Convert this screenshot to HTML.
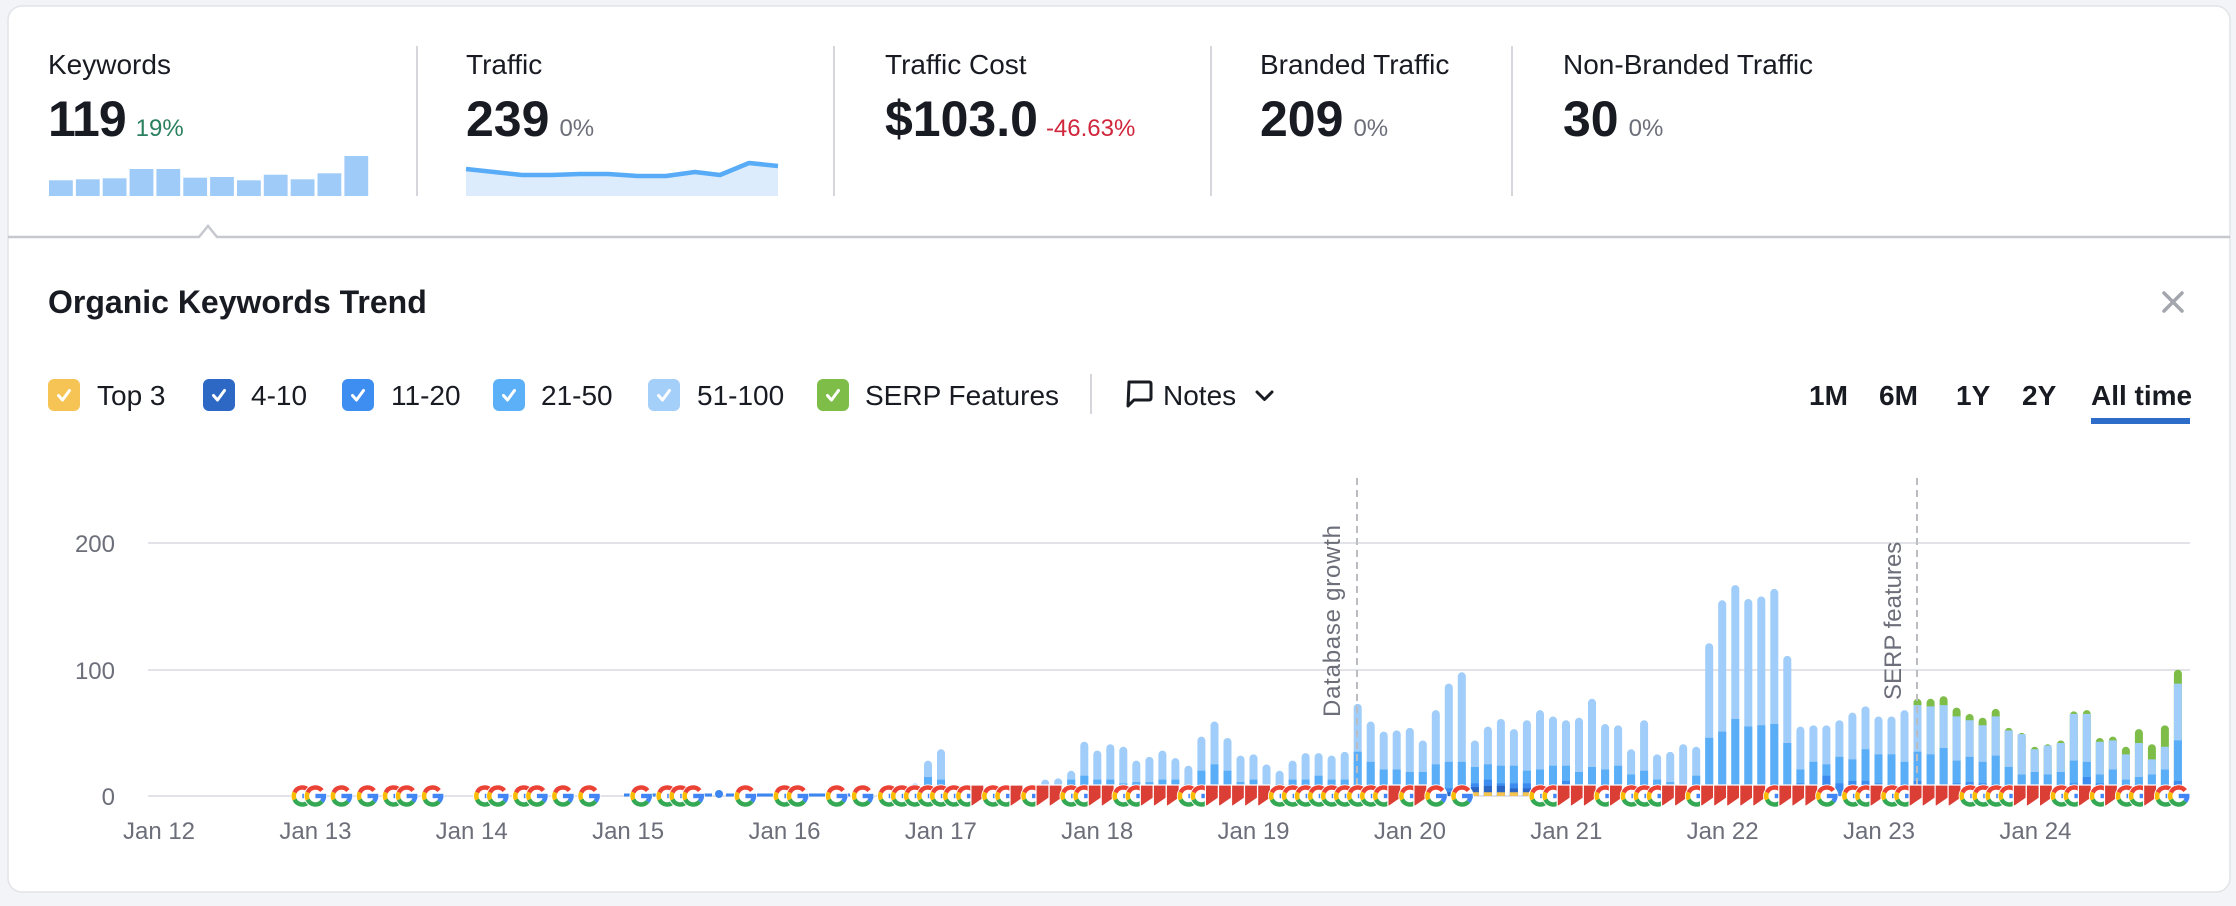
<!DOCTYPE html>
<html><head><meta charset="utf-8"><style>
html,body{margin:0;padding:0;background:#f3f4f8;width:2236px;height:906px;overflow:hidden}
svg{display:block}
.t{font-family:"Liberation Sans",Arial,sans-serif}
</style></head><body>
<svg class="t" width="2236" height="906" viewBox="0 0 2236 906" xmlns="http://www.w3.org/2000/svg">
<defs>
<g id="gi">
<circle r="11.6" fill="#fff"/>
<g fill="none" stroke-width="4.5">
<path d="M6.51 -5.46A8.5 8.5 0 0 0 -7.7 -3.59" stroke="#ea4335"/>
<path d="M-7.7 -3.59A8.5 8.5 0 0 0 -7.7 3.59" stroke="#fbbc05"/>
<path d="M-7.7 3.59A8.5 8.5 0 0 0 6.51 5.46" stroke="#34a853"/>
<path d="M6.51 5.46A8.5 8.5 0 0 0 8.5 0" stroke="#4285f4"/>
</g>
<rect x="0" y="-2.2" width="10.75" height="4.4" fill="#4285f4"/>
</g>
<path id="fl" d="M0 0H13V13L1.5 21H0Z" fill="#db3e35" stroke="#fff" stroke-width="1.2"/>
</defs>

<rect x="0" y="0" width="2236" height="906" fill="#f3f4f8"/>
<rect x="8" y="6" width="2222" height="886" rx="14" fill="#fff" stroke="#e2e3e8" stroke-width="1.5"/>

<!-- header metrics -->
<g font-size="28" fill="#191b23">
<text x="48" y="74">Keywords</text>
<text x="466" y="74">Traffic</text>
<text x="885" y="74">Traffic Cost</text>
<text x="1260" y="74">Branded Traffic</text>
<text x="1563" y="74">Non-Branded Traffic</text>
</g>
<text x="48" y="136"><tspan font-size="50" font-weight="bold" fill="#191b23" letter-spacing="-1">119</tspan><tspan dx="10" font-size="24" fill="#2b8060">19%</tspan></text>
<text x="466" y="136"><tspan font-size="50" font-weight="bold" fill="#191b23">239</tspan><tspan dx="10" font-size="24" fill="#6c6e79">0%</tspan></text>
<text x="885" y="136"><tspan font-size="50" font-weight="bold" fill="#191b23">$103.0</tspan><tspan dx="8" font-size="24" fill="#d0263c">-46.63%</tspan></text>
<text x="1260" y="136"><tspan font-size="50" font-weight="bold" fill="#191b23">209</tspan><tspan dx="10" font-size="24" fill="#6c6e79">0%</tspan></text>
<text x="1563" y="136"><tspan font-size="50" font-weight="bold" fill="#191b23">30</tspan><tspan dx="10" font-size="24" fill="#6c6e79">0%</tspan></text>

<g stroke="#d6d7dc" stroke-width="2">
<line x1="417" y1="46" x2="417" y2="196"/>
<line x1="834" y1="46" x2="834" y2="196"/>
<line x1="1211" y1="46" x2="1211" y2="196"/>
<line x1="1512" y1="46" x2="1512" y2="196"/>
</g>

<!-- keywords sparkline -->
<g fill="#9fcbf8">
<rect x="49" y="180.3" width="23.8" height="15.7"/>
<rect x="75.9" y="179.3" width="23.8" height="16.7"/>
<rect x="102.7" y="178.3" width="23.8" height="17.7"/>
<rect x="129.6" y="169" width="23.8" height="27"/>
<rect x="156.4" y="169" width="23.8" height="27"/>
<rect x="183.3" y="177.7" width="23.8" height="18.3"/>
<rect x="210.1" y="177" width="23.8" height="19"/>
<rect x="237" y="180.3" width="23.8" height="15.7"/>
<rect x="263.8" y="174.7" width="23.8" height="21.3"/>
<rect x="290.7" y="179.3" width="23.8" height="16.7"/>
<rect x="317.5" y="173.3" width="23.8" height="22.7"/>
<rect x="344.4" y="156" width="23.8" height="40"/>
</g>

<!-- traffic sparkline -->
<polygon points="466,169 494,172 522,175 551,175 580,174 608,174 637,176 666,176 695,172 720,175 749,163 778,166 778,196 466,196" fill="#dcecfd"/>
<polyline points="466,169 494,172 522,175 551,175 580,174 608,174 637,176 666,176 695,172 720,175 749,163 778,166" fill="none" stroke="#58abf6" stroke-width="4.5" stroke-linejoin="round"/>

<!-- header bottom line with notch -->
<polyline points="8,237 199,237 208,226 217,237 2230,237" fill="none" stroke="#c6c8ce" stroke-width="2.5"/>

<!-- title -->
<text x="48" y="313" font-size="32" font-weight="bold" fill="#191b23">Organic Keywords Trend</text>
<g stroke="#a4a6ae" stroke-width="3.5" stroke-linecap="round">
<line x1="2164" y1="293" x2="2182" y2="311"/>
<line x1="2182" y1="293" x2="2164" y2="311"/>
</g>

<!-- legend -->
<rect x="48" y="379" width="32" height="32" rx="6" fill="#f6c454"/>
<rect x="203" y="379" width="32" height="32" rx="6" fill="#2c68c4"/>
<rect x="342" y="379" width="32" height="32" rx="6" fill="#3d8ef0"/>
<rect x="493" y="379" width="32" height="32" rx="6" fill="#5cb0f7"/>
<rect x="648" y="379" width="32" height="32" rx="6" fill="#a3cff9"/>
<rect x="817" y="379" width="32" height="32" rx="6" fill="#7dbd48"/>
<g fill="none" stroke="#fff" stroke-width="3" stroke-linecap="round" stroke-linejoin="round">
<polyline points="58.5,395.5 62.5,400 69.5,390.5"/>
<polyline points="213.5,395.5 217.5,400 224.5,390.5"/>
<polyline points="352.5,395.5 356.5,400 363.5,390.5"/>
<polyline points="503.5,395.5 507.5,400 514.5,390.5"/>
<polyline points="658.5,395.5 662.5,400 669.5,390.5"/>
<polyline points="827.5,395.5 831.5,400 838.5,390.5"/>
</g>
<g font-size="28" fill="#191b23">
<text x="97" y="405">Top 3</text>
<text x="251" y="405">4-10</text>
<text x="391" y="405">11-20</text>
<text x="541" y="405">21-50</text>
<text x="697" y="405">51-100</text>
<text x="865" y="405">SERP Features</text>
<text x="1163" y="405">Notes</text>
</g>
<line x1="1091" y1="374" x2="1091" y2="414" stroke="#d5d6db" stroke-width="2"/>
<path d="M1129 382H1149Q1151 382 1151 384V398Q1151 400 1149 400H1134L1128 406Z" fill="none" stroke="#191b23" stroke-width="3" stroke-linejoin="round"/>
<polyline points="1257,392 1264.5,399.5 1272,392" fill="none" stroke="#191b23" stroke-width="3" stroke-linecap="round" stroke-linejoin="round"/>

<g font-size="28" font-weight="bold" fill="#191b23">
<text x="1809" y="405">1M</text>
<text x="1879" y="405">6M</text>
<text x="1956" y="405">1Y</text>
<text x="2022" y="405">2Y</text>
<text x="2091" y="405">All time</text>
</g>
<rect x="2091" y="418" width="99" height="6" fill="#2d6cc9"/>

<!-- grid -->
<g stroke="#e2e3e8" stroke-width="2">
<line x1="148" y1="543" x2="2190" y2="543"/>
<line x1="148" y1="670" x2="2190" y2="670"/>
<line x1="148" y1="796" x2="2190" y2="796"/>
</g>
<g font-size="24" fill="#6c6e79">
<text x="115" y="552" text-anchor="end">200</text>
<text x="115" y="679" text-anchor="end">100</text>
<text x="115" y="805" text-anchor="end">0</text>
</g>
<g font-size="24" fill="#6c6e79" text-anchor="middle">
<text x="159" y="839">Jan 12</text>
<text x="315.4" y="839">Jan 13</text>
<text x="471.7" y="839">Jan 14</text>
<text x="628.1" y="839">Jan 15</text>
<text x="784.5" y="839">Jan 16</text>
<text x="940.8" y="839">Jan 17</text>
<text x="1097.2" y="839">Jan 18</text>
<text x="1253.5" y="839">Jan 19</text>
<text x="1409.9" y="839">Jan 20</text>
<text x="1566.3" y="839">Jan 21</text>
<text x="1722.6" y="839">Jan 22</text>
<text x="1879" y="839">Jan 23</text>
<text x="2035.4" y="839">Jan 24</text>
</g>

<!-- bars -->
<g transform="translate(0 796) scale(1 -1.263)" fill="none" stroke-width="8">
<path vector-effect="non-scaling-stroke" stroke="#7dbd48" stroke-linecap="round" d="M1917.5 3.2V73.8M1930.6 3.2V73.8M1943.6 3.2V75.8M1956.6 3.2V66.8M1969.6 3.2V61.8M1982.6 3.2V58.8M1995.7 3.2V65.8M2008.7 3.2V50.8M2021.7 3.2V46.8M2034.7 3.2V35.8M2047.7 3.2V37.8M2060.8 3.2V40.8M2073.8 3.2V63.8M2086.8 3.2V64.8M2099.8 3.2V42.8M2112.8 3.2V43.8M2125.9 3.2V35.8M2138.9 3.2V49.8M2151.9 3.2V37.8M2164.9 3.2V52.8M2177.9 3.2V96.8"/>
<path vector-effect="non-scaling-stroke" stroke="#a0cdf9" stroke-linecap="butt" d="M1917.5 0V72M1930.6 0V71M1943.6 0V72M1956.6 0V63M1969.6 0V60M1982.6 0V56M1995.7 0V63M2008.7 0V52M2021.7 0V49M2034.7 0V37M2047.7 0V40M2060.8 0V42M2073.8 0V65M2086.8 0V65M2099.8 0V43M2112.8 0V44M2125.9 0V33M2138.9 0V42M2151.9 0V29M2164.9 0V39M2177.9 0V89M1006.1 0V3"/>
<path vector-effect="non-scaling-stroke" stroke="#a0cdf9" stroke-linecap="round" d="M915 3.2V6.8M928 3.2V24.8M941 3.2V33.8M1045.2 3.2V9.8M1058.2 3.2V10.8M1071.2 3.2V16.8M1084.3 3.2V39.8M1097.3 3.2V32.8M1110.3 3.2V37.8M1123.3 3.2V35.8M1136.3 3.2V24.8M1149.4 3.2V27.8M1162.4 3.2V32.8M1175.4 3.2V26.8M1188.4 3.2V20.8M1201.4 3.2V43.8M1214.5 3.2V55.8M1227.5 3.2V42.8M1240.5 3.2V28.8M1253.5 3.2V29.8M1266.5 3.2V21.8M1279.6 3.2V16.8M1292.6 3.2V24.8M1305.6 3.2V30.8M1318.6 3.2V30.8M1331.6 3.2V28.8M1344.7 3.2V31.8M1357.7 3.2V69.8M1370.7 3.2V55.8M1383.7 3.2V47.8M1396.7 3.2V48.8M1409.8 3.2V50.8M1422.8 3.2V40.8M1435.8 3.2V64.8M1448.8 3.2V85.8M1461.8 3.2V94.8M1474.9 3.2V40.8M1487.9 3.2V51.8M1500.9 3.2V57.8M1513.9 3.2V49.8M1526.9 3.2V56.8M1540 3.2V64.8M1553 3.2V59.8M1566 3.2V56.8M1579 3.2V58.8M1592 3.2V73.8M1605.1 3.2V53.8M1618.1 3.2V52.8M1631.1 3.2V33.8M1644.1 3.2V56.8M1657.1 3.2V29.8M1670.2 3.2V31.8M1683.2 3.2V37.8M1696.2 3.2V35.8M1709.2 3.2V117.8M1722.2 3.2V151.8M1735.3 3.2V163.8M1748.3 3.2V152.8M1761.3 3.2V154.8M1774.3 3.2V160.8M1787.3 3.2V107.8M1800.4 3.2V51.8M1813.4 3.2V52.8M1826.4 3.2V52.8M1839.4 3.2V56.8M1852.4 3.2V62.8M1865.5 3.2V67.8M1878.5 3.2V59.8M1891.5 3.2V59.8M1904.5 3.2V64.8"/>
<path vector-effect="non-scaling-stroke" stroke="#5aaef7" stroke-linecap="butt" d="M928 0V15M941 0V13M1071.2 0V13M1084.3 0V16M1097.3 0V13M1110.3 0V13M1123.3 0V10M1136.3 0V11M1149.4 0V11M1162.4 0V13M1175.4 0V13M1188.4 0V9M1201.4 0V20M1214.5 0V25M1227.5 0V20M1240.5 0V11M1253.5 0V13M1266.5 0V8M1279.6 0V9M1292.6 0V13M1305.6 0V13M1318.6 0V16M1331.6 0V13M1344.7 0V13M1357.7 0V35M1370.7 0V27M1383.7 0V21M1396.7 0V21M1409.8 0V19M1422.8 0V19M1435.8 0V25M1448.8 0V27M1461.8 0V27M1474.9 0V23M1487.9 0V25M1500.9 0V24M1513.9 0V24M1526.9 0V20M1540 0V21M1553 0V24M1566 0V24M1579 0V19M1592 0V23M1605.1 0V21M1618.1 0V24M1631.1 0V17M1644.1 0V20M1657.1 0V13M1670.2 0V11M1683.2 0V9M1696.2 0V16M1709.2 0V46M1722.2 0V51M1735.3 0V61M1748.3 0V55M1761.3 0V56M1774.3 0V57M1787.3 0V42M1800.4 0V21M1813.4 0V27M1826.4 0V25M1839.4 0V31M1852.4 0V29M1865.5 0V37M1878.5 0V33M1891.5 0V33M1904.5 0V27M1917.5 0V35M1930.6 0V33M1943.6 0V38M1956.6 0V28M1969.6 0V31M1982.6 0V27M1995.7 0V32M2008.7 0V23M2021.7 0V17M2034.7 0V19M2047.7 0V17M2060.8 0V19M2073.8 0V28M2086.8 0V27M2099.8 0V17M2112.8 0V21M2125.9 0V13M2138.9 0V15M2151.9 0V17M2164.9 0V21M2177.9 0V44"/>
<path vector-effect="non-scaling-stroke" stroke="#3c8cf0" stroke-linecap="butt" d="M1448.8 0V6M1461.8 0V5M1474.9 0V10M1487.9 0V13M1500.9 0V10M1513.9 0V10M1526.9 0V10M1566 0V12M1787.3 0V9M1800.4 0V10M1813.4 0V9M1826.4 0V16M1839.4 0V10M1852.4 0V12M1865.5 0V12M1878.5 0V10M1891.5 0V8M1904.5 0V9M1917.5 0V12M1930.6 0V9M1943.6 0V9M1956.6 0V10M1969.6 0V11M1982.6 0V10M1995.7 0V9M2008.7 0V8M2073.8 0V10M2086.8 0V15M2099.8 0V10M2112.8 0V8M2164.9 0V8M2177.9 0V12"/>
<path vector-effect="non-scaling-stroke" stroke="#2c65c2" stroke-linecap="butt" d="M1448.8 0V3M1474.9 0V7M1487.9 0V8M1500.9 0V8M1513.9 0V6M1526.9 0V6"/>
<path vector-effect="non-scaling-stroke" stroke="#f6c350" stroke-linecap="butt" d="M1474.9 0V3M1487.9 0V3M1500.9 0V3M1513.9 0V3M1526.9 0V3"/>
</g>

<!-- annotations -->
<g stroke="#bcbdc3" stroke-width="2" stroke-dasharray="7 5">
<line x1="1357" y1="478" x2="1357" y2="796"/>
<line x1="1917" y1="478" x2="1917" y2="796"/>
</g>
<text transform="translate(1340 717) rotate(-90)" font-size="24" fill="#6c6e79" textLength="192" lengthAdjust="spacing">Database growth</text>
<text transform="translate(1901 700) rotate(-90)" font-size="24" fill="#6c6e79">SERP features</text>

<!-- zero dashed line -->
<g stroke="#3b86f0" stroke-width="3">
<line x1="624" y1="795" x2="640" y2="795"/>
<line x1="651" y1="795" x2="656" y2="795"/>
<line x1="704" y1="795" x2="712" y2="795"/>
<line x1="726" y1="795" x2="735" y2="795"/>
<line x1="757" y1="795" x2="775" y2="795"/>
<line x1="803" y1="795" x2="828" y2="795"/>
<line x1="845" y1="795" x2="850" y2="795"/>
</g>
<circle cx="719" cy="794" r="4" fill="#3b86f0"/>

<!-- icons -->
<g>
<use href="#gi" x="302.3" y="796"/>
<use href="#gi" x="315.4" y="796"/>
<use href="#gi" x="341.4" y="796"/>
<use href="#gi" x="367.5" y="796"/>
<use href="#gi" x="393.5" y="796"/>
<use href="#gi" x="406.6" y="796"/>
<use href="#gi" x="432.6" y="796"/>
<use href="#gi" x="484.8" y="796"/>
<use href="#gi" x="497.8" y="796"/>
<use href="#gi" x="523.8" y="796"/>
<use href="#gi" x="536.9" y="796"/>
<use href="#gi" x="562.9" y="796"/>
<use href="#gi" x="589" y="796"/>
<use href="#gi" x="641.1" y="796"/>
<use href="#gi" x="667.2" y="796"/>
<use href="#gi" x="680.2" y="796"/>
<use href="#gi" x="693.2" y="796"/>
<use href="#gi" x="745.4" y="796"/>
<use href="#gi" x="784.4" y="796"/>
<use href="#gi" x="797.5" y="796"/>
<use href="#gi" x="836.6" y="796"/>
<use href="#gi" x="862.6" y="796"/>
<use href="#gi" x="888.7" y="796"/>
<use href="#gi" x="901.7" y="796"/>
<use href="#gi" x="914.7" y="796"/>
<use href="#gi" x="927.8" y="796"/>
<use href="#gi" x="940.8" y="796"/>
<use href="#gi" x="953.8" y="796"/>
<use href="#gi" x="966.9" y="796"/>
<use href="#fl" x="970.9" y="785"/>
<use href="#gi" x="992.9" y="796"/>
<use href="#gi" x="1006" y="796"/>
<use href="#fl" x="1010" y="785"/>
<use href="#gi" x="1032" y="796"/>
<use href="#fl" x="1036" y="785"/>
<use href="#fl" x="1049.1" y="785"/>
<use href="#gi" x="1071.1" y="796"/>
<use href="#gi" x="1084.1" y="796"/>
<use href="#fl" x="1088.2" y="785"/>
<use href="#fl" x="1101.2" y="785"/>
<use href="#gi" x="1123.2" y="796"/>
<use href="#gi" x="1136.3" y="796"/>
<use href="#fl" x="1140.3" y="785"/>
<use href="#fl" x="1153.3" y="785"/>
<use href="#fl" x="1166.3" y="785"/>
<use href="#gi" x="1188.4" y="796"/>
<use href="#gi" x="1201.4" y="796"/>
<use href="#fl" x="1205.4" y="785"/>
<use href="#fl" x="1218.5" y="785"/>
<use href="#fl" x="1231.5" y="785"/>
<use href="#fl" x="1244.5" y="785"/>
<use href="#fl" x="1257.6" y="785"/>
<use href="#gi" x="1279.6" y="796"/>
<use href="#gi" x="1292.6" y="796"/>
<use href="#gi" x="1305.6" y="796"/>
<use href="#gi" x="1318.7" y="796"/>
<use href="#gi" x="1331.7" y="796"/>
<use href="#gi" x="1344.7" y="796"/>
<use href="#gi" x="1357.8" y="796"/>
<use href="#gi" x="1370.8" y="796"/>
<use href="#gi" x="1383.8" y="796"/>
<use href="#fl" x="1387.9" y="785"/>
<use href="#gi" x="1409.9" y="796"/>
<use href="#fl" x="1413.9" y="785"/>
<use href="#gi" x="1436" y="796"/>
<use href="#gi" x="1462" y="796"/>
<use href="#gi" x="1540.2" y="796"/>
<use href="#gi" x="1553.2" y="796"/>
<use href="#fl" x="1557.2" y="785"/>
<use href="#fl" x="1570.3" y="785"/>
<use href="#fl" x="1583.3" y="785"/>
<use href="#gi" x="1605.3" y="796"/>
<use href="#fl" x="1609.4" y="785"/>
<use href="#gi" x="1631.4" y="796"/>
<use href="#gi" x="1644.4" y="796"/>
<use href="#gi" x="1657.5" y="796"/>
<use href="#fl" x="1661.5" y="785"/>
<use href="#fl" x="1674.5" y="785"/>
<use href="#gi" x="1696.5" y="796"/>
<use href="#fl" x="1700.6" y="785"/>
<use href="#fl" x="1713.6" y="785"/>
<use href="#fl" x="1726.6" y="785"/>
<use href="#fl" x="1739.7" y="785"/>
<use href="#fl" x="1752.7" y="785"/>
<use href="#gi" x="1774.7" y="796"/>
<use href="#fl" x="1778.8" y="785"/>
<use href="#fl" x="1791.8" y="785"/>
<use href="#fl" x="1804.8" y="785"/>
<use href="#gi" x="1826.8" y="796"/>
<use href="#gi" x="1852.9" y="796"/>
<use href="#gi" x="1865.9" y="796"/>
<use href="#fl" x="1870" y="785"/>
<use href="#gi" x="1892" y="796"/>
<use href="#gi" x="1905" y="796"/>
<use href="#fl" x="1909.1" y="785"/>
<use href="#fl" x="1922.1" y="785"/>
<use href="#fl" x="1935.1" y="785"/>
<use href="#fl" x="1948.1" y="785"/>
<use href="#gi" x="1970.2" y="796"/>
<use href="#gi" x="1983.2" y="796"/>
<use href="#gi" x="1996.2" y="796"/>
<use href="#gi" x="2009.3" y="796"/>
<use href="#fl" x="2013.3" y="785"/>
<use href="#fl" x="2026.3" y="785"/>
<use href="#fl" x="2039.4" y="785"/>
<use href="#gi" x="2061.4" y="796"/>
<use href="#gi" x="2074.4" y="796"/>
<use href="#fl" x="2078.4" y="785"/>
<use href="#gi" x="2100.5" y="796"/>
<use href="#fl" x="2104.5" y="785"/>
<use href="#gi" x="2126.5" y="796"/>
<use href="#gi" x="2139.6" y="796"/>
<use href="#fl" x="2143.6" y="785"/>
<use href="#gi" x="2165.6" y="796"/>
<use href="#gi" x="2178.7" y="796"/>
</g>
</svg>
</body></html>
